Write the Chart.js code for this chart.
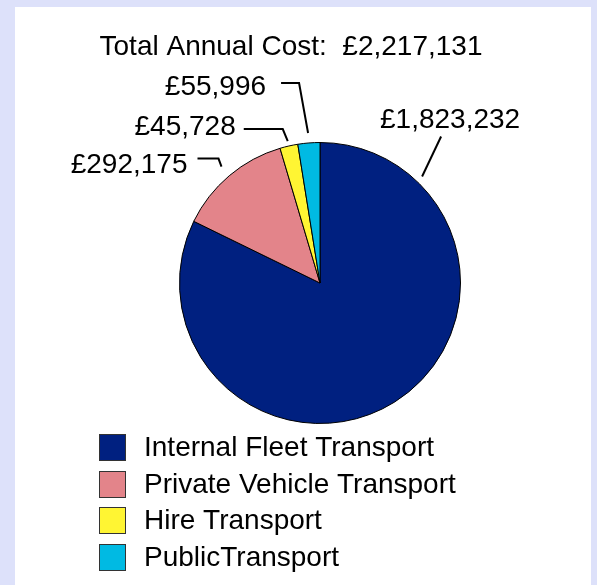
<!DOCTYPE html>
<html>
<head>
<meta charset="utf-8">
<script src="https://cdn.jsdelivr.net/npm/chart.js@4.4.1/dist/chart.umd.min.js"></script>
<style>
  html, body { margin: 0; padding: 0; overflow: hidden; background: #dde1fa; }
  canvas { display: block; }
</style>
</head>
<body>
<canvas id="c" width="597" height="585"></canvas>
<script>
// ---- data ----
const categories = ['Internal Fleet Transport', 'Private Vehicle Transport', 'Hire Transport', 'PublicTransport'];
const costs = [1823232, 292175, 45728, 55996];
const sliceColors = ['#002080', '#e3848a', '#fff533', '#00bae3'];
const titlePrefix = 'Total Annual Cost:  ';

// ---- layout / style (not data) ----
const FONT = '28px "Liberation Sans", Arial, Helvetica, sans-serif';
// leader lines: anchor angle (deg clockwise from top; null = slice middle), radial gap,
// polyline offsets from anchor, text offset from last point
const leaderLayout = [
  { angle: 43.8, gap: 7,  pts: [[19, -40]], text: [9, -9], align: 'center' },
  { angle: null, gap: 12, pts: [[-3, -8], [-24, -8]], text: [-10, 14], align: 'right' },
  { angle: null, gap: 5,  pts: [[-5, -12], [-44, -12]], text: [-8, 6], align: 'right' },
  { angle: null, gap: 10, pts: [[-9, -50], [-27, -50]], text: [-15, 12], align: 'right' }
];

const fmt = v => '£' + v.toLocaleString('en-GB');
const total = costs.reduce((a, b) => a + b, 0);

const backgroundPlugin = {
  id: 'panelBg',
  beforeDraw(chart) {
    const ctx = chart.ctx;
    ctx.save();
    ctx.fillStyle = '#dde1fa';
    ctx.fillRect(0, 0, chart.width, chart.height);
    ctx.fillStyle = '#ffffff';
    ctx.fillRect(15, 7, 576, chart.height - 7);
    ctx.restore();
  }
};

const annotatePlugin = {
  id: 'annotate',
  afterDraw(chart) {
    const ctx = chart.ctx;
    const meta = chart.getDatasetMeta(0);
    ctx.save();
    ctx.font = FONT;
    ctx.fillStyle = '#000';
    ctx.strokeStyle = '#000';
    ctx.textBaseline = 'alphabetic';

    // title
    ctx.textAlign = 'center';
    ctx.fillText(titlePrefix + fmt(total), 291, 55);

    // leader labels
    meta.data.forEach((arc, i) => {
      const p = arc.getProps(['x', 'y', 'startAngle', 'endAngle', 'outerRadius'], true);
      const L = leaderLayout[i];
      const ang = L.angle === null ? (p.startAngle + p.endAngle) / 2 : (L.angle - 90) * Math.PI / 180;
      const rr = p.outerRadius + L.gap;
      const ax = p.x + rr * Math.cos(ang);
      const ay = p.y + rr * Math.sin(ang);
      ctx.lineWidth = 2;
      ctx.beginPath();
      ctx.moveTo(ax, ay);
      let lx = ax, ly = ay;
      L.pts.forEach(([dx, dy]) => { lx = ax + dx; ly = ay + dy; ctx.lineTo(lx, ly); });
      ctx.stroke();
      ctx.textAlign = L.align;
      ctx.fillText(fmt(costs[i]), lx + L.text[0], ly + L.text[1]);
    });

    // legend
    const bx = 99, by0 = 434, step = 36.7, bs = 27;
    categories.forEach((name, i) => {
      const by = Math.round(by0 + i * step);
      ctx.fillStyle = sliceColors[i];
      ctx.fillRect(bx, by, bs, bs);
      ctx.lineWidth = 1;
      ctx.strokeStyle = '#333';
      ctx.strokeRect(bx + 0.5, by + 0.5, bs - 1, bs - 1);
      ctx.fillStyle = '#000';
      ctx.textAlign = 'left';
      ctx.fillText(name, 144, by + 22);
    });
    ctx.restore();
  }
};

new Chart(document.getElementById('c'), {
  type: 'pie',
  data: {
    labels: categories,
    datasets: [{
      data: costs,
      backgroundColor: sliceColors,
      borderColor: '#000',
      borderWidth: 1
    }]
  },
  options: {
    responsive: false,
    animation: false,
    devicePixelRatio: 1,
    layout: { padding: { left: 179, right: 136, top: 142, bottom: 161 } },
    plugins: {
      legend: { display: false },
      title: { display: false },
      tooltip: { enabled: false }
    }
  },
  plugins: [backgroundPlugin, annotatePlugin]
});
</script>
</body>
</html>
